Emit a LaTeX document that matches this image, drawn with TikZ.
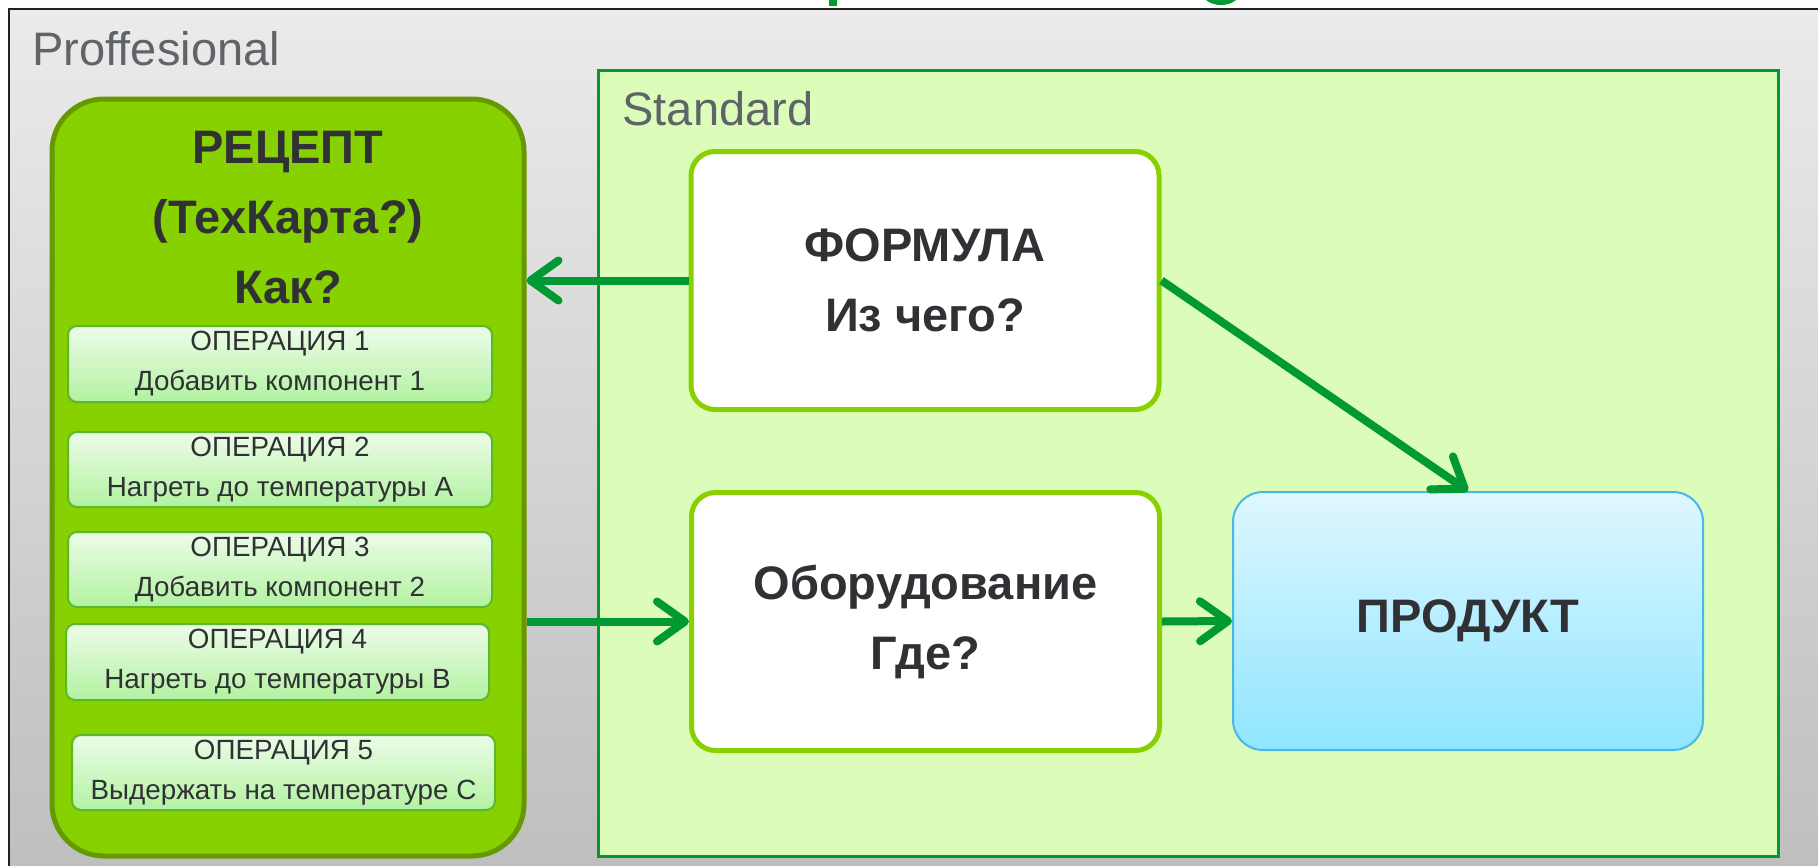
\documentclass[tikz,border=0pt]{standalone}
\usepackage{fontspec}
\setmainfont{Liberation Sans}
\usetikzlibrary{arrows.meta}
\definecolor{bgtop}{HTML}{EBEBEB}
\definecolor{bgbot}{HTML}{BEBEBE}
\definecolor{frame}{HTML}{222222}
\definecolor{greytext}{HTML}{606368}
\definecolor{darktext}{HTML}{303134}
\definecolor{stdfill}{HTML}{DBFDB9}
\definecolor{stdline}{HTML}{009933}
\definecolor{recfill}{HTML}{88D100}
\definecolor{recline}{HTML}{669900}
\definecolor{optop}{HTML}{EDFCE9}
\definecolor{opbot}{HTML}{B2F2A0}
\definecolor{opline}{HTML}{5AB82A}
\definecolor{lime}{HTML}{88D000}
\definecolor{prodtop}{HTML}{DFF7FF}
\definecolor{prodbot}{HTML}{8FE5FF}
\definecolor{prodline}{HTML}{48B8E8}
\definecolor{arrowgreen}{HTML}{009933}
\begin{document}
\begin{tikzpicture}[x=1pt,y=-1pt,
  lbl/.style={anchor=base west,text=greytext,font=\fontsize{47}{56}\selectfont},
  opbox/.style={draw=opline,line width=2pt,rounded corners=9pt,top color=optop,bottom color=opbot,
    minimum width=424pt,minimum height=76pt,inner sep=0pt,align=center,text=darktext,
    font=\fontsize{27.8}{40}\selectfont},
  whitebox/.style={draw=lime,line width=5pt,fill=white,rounded corners=24pt,
    minimum width=468pt,minimum height=258pt,inner sep=0pt,align=center,text=darktext,
    font=\bfseries\fontsize{47}{70}\selectfont},
  arr/.style={draw=arrowgreen,line width=8pt,-{Straight Barb[length=28pt,width=40pt,round]}}
]
\useasboundingbox (0,0) rectangle (1818,865);
\clip (0,0) rectangle (1818,865);
\fill[white] (0,0) rectangle (1818,865);
% cut-off title fragments
\fill[arrowgreen] (829,-2) rectangle (837,6);
\fill[arrowgreen] (1221,-8) ellipse [x radius=19pt, y radius=13pt];
% outer professional frame
\shade[top color=bgtop,bottom color=bgbot] (9,9) rectangle (1830,880);
\draw[frame,line width=2pt] (9,880) -- (9,9) -- (1830,9);
\node[lbl] (prof) at (29,65) {Proffesional};
% standard frame
\node[draw=stdline,line width=3pt,fill=stdfill,minimum width=1180pt,minimum height=786pt,inner sep=0pt]
  (std) at (1188,463) {};
\node[lbl] (stdlbl) at (619,125) {Standard};
% recipe
\node[draw=recline,line width=5pt,fill=recfill,rounded corners=52pt,minimum width=472pt,minimum height=757pt,inner sep=0pt]
  (recipe) at (288,477.5) {};
\node[align=center,text=darktext,font=\bfseries\fontsize{47}{70}\selectfont] (rtitle) at (288,218)
  {РЕЦЕПТ\\(ТехКарта?)\\Как?};
\node[opbox] (op1) at (280,364) {ОПЕРАЦИЯ 1\\Добавить компонент 1};
\node[opbox,minimum height=75pt] (op2) at (280,469.5) {ОПЕРАЦИЯ 2\\Нагреть до температуры А};
\node[opbox,minimum height=75pt] (op3) at (280,569.5) {ОПЕРАЦИЯ 3\\Добавить компонент 2};
\node[opbox,minimum width=423pt] (op4) at (277.5,662) {ОПЕРАЦИЯ 4\\Нагреть до температуры В};
\node[opbox,minimum width=423pt,minimum height=75pt] (op5) at (283.5,772.5) {ОПЕРАЦИЯ 5\\Выдержать на температуре С};
% main boxes
\node[whitebox] (formula) at (925,280.5) {ФОРМУЛА\\Из чего?};
\node[whitebox] (equip) at (925.5,621.5) {Оборудование\\Где?};
\node[draw=prodline,line width=2pt,rounded corners=30pt,top color=prodtop,bottom color=prodbot,
  minimum width=470pt,minimum height=258pt,inner sep=0pt,text=darktext,
  font=\bfseries\fontsize{47}{70}\selectfont] (product) at (1468,621) {ПРОДУКТ};
% connectors
\draw[arr] (formula.west) -- (formula.west -| recipe.east);
\draw[arr] (recipe.east |- equip.west) -- (equip.west);
\draw[arr] (equip.east) -- (product.west);
\draw[arr] (formula.east) -- (product.north);
\end{tikzpicture}
\end{document}
